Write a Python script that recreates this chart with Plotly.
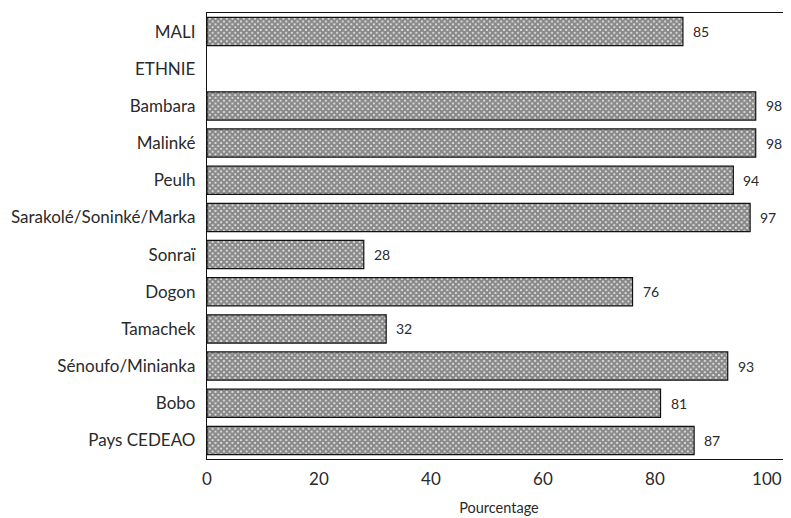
import plotly.graph_objects as go

categories = ["MALI", "ETHNIE", "Bambara", "Malinké", "Peulh", "Sarakolé/Soninké/Marka",
              "Sonraï", "Dogon", "Tamachek", "Sénoufo/Minianka", "Bobo", "Pays CEDEAO"]
values = [85, None, 98, 98, 94, 97, 28, 76, 32, 93, 81, 87]
x_ticks = [0, 20, 40, 60, 80, 100]

FONT = "Lato"

fig = go.Figure()
fig.add_trace(go.Bar(
    x=values, y=categories, orientation="h", width=0.76,
    marker=dict(
        color="#808080",
        line=dict(color="#111111", width=1.2),
        pattern=dict(shape="x", fgcolor="#1e1e1e", bgcolor="#f4f4f4", size=4, solidity=0.8),
    ),
    hoverinfo="skip",
))

annotations = []
for c, v in zip(categories, values):
    if v is None:
        continue
    annotations.append(dict(x=v, y=c, text=str(v), showarrow=False, xanchor="left",
                            xshift=8, font=dict(family=FONT, size=14, color="#2a2a2a")))

fig.update_layout(
    width=783, height=510,
    margin=dict(l=199, r=0, t=5, b=59),
    paper_bgcolor="white", plot_bgcolor="white",
    showlegend=False,
    font=dict(family=FONT, size=14, color="#2a2a2a"),
    annotations=annotations,
    xaxis=dict(range=[0, 104.3], tickvals=x_ticks, showgrid=False, zeroline=False,
               showline=True, linecolor="#111", linewidth=1.3, mirror=True,
               ticks="", ticklabelstandoff=4, automargin=False,
               title=dict(text="Pourcentage", font=dict(size=14.5), standoff=15),
               tickfont=dict(size=17)),
    yaxis=dict(categoryorder="array", categoryarray=categories, autorange=False,
               range=[len(categories) - 0.5, -0.5], showgrid=False, zeroline=False,
               showline=True, linecolor="#111", linewidth=1.3, ticks="",
               automargin=False, ticklabelstandoff=7, tickfont=dict(size=17)),
)

fig.write_html("out.html")
